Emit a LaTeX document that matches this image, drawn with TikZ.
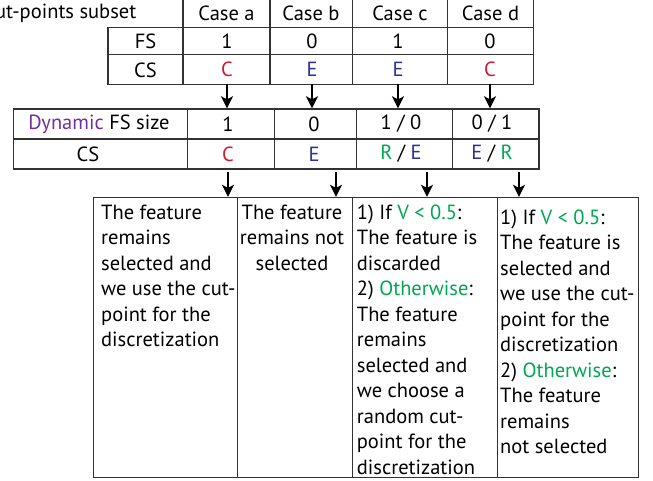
\documentclass[tikz,border=0pt]{standalone}
\usepackage{fontspec}
\setmainfont{PT Sans}
\usetikzlibrary{arrows.meta}

\definecolor{caseC}{RGB}{200,30,45}
\definecolor{caseE}{RGB}{46,49,146}
\definecolor{caseR}{RGB}{0,166,81}
\definecolor{dynpurple}{RGB}{112,48,160}

\newcommand{\cC}{\textcolor{caseC}{C}}
\newcommand{\cE}{\textcolor{caseE}{E}}
\newcommand{\cR}{\textcolor{caseR}{R}}
\newcommand{\grn}[1]{\textcolor{caseR}{#1}}

\begin{document}
\begin{tikzpicture}[x=1pt,y=-1pt]
	\tikzstyle{every node}=[font=\fontsize{20.5}{25.5}\selectfont, inner sep=0pt]
	\tikzstyle{grid}=[draw=black!80, line width=1.1pt]
	\tikzstyle{cell}=[minimum height=30pt]
	\tikzstyle{flow}=[line width=1.5pt, shorten >=0.5pt, -{Stealth[length=12pt,width=12pt,inset=3pt]}]
	\tikzstyle{box}=[draw=black!80, line width=1.1pt, minimum height=279.4pt, anchor=north west]
	\tikzstyle{txt}=[anchor=north west, align=left]
	
	\useasboundingbox (0,0) rectangle (653,481);
	\clip (0,0) rectangle (653,481);
	
	% cut-points subset table
	\draw[grid] (108,27.7) rectangle (533.3,84.3);
	\draw[grid] (108,54.3) -- (533.3,54.3);
	\foreach \x in {183,270,352.3,447.7,533.3}
		\draw[grid] (\x,-2) -- (\x,84.3);
	
	\node (cut) [anchor=east] at (136.5,13) {Cut-points subset};
	\node (case-a) at (226.5,13) {Case a};
	\node (case-b) at (311,13) {Case b};
	\node (case-c) at (400,13) {Case c};
	\node (case-d) at (490.5,13) {Case d};
	
	\node (fs) at (145.5,41) {FS};
	\node (cs) at (145.5,70) {CS};
	\node (fs-a) at (227,41) {1};
	\node (fs-b) at (312,41) {0};
	\node (fs-c) at (398,41) {1};
	\node (fs-d) at (490,41) {0};
	\node[cell] (cs-a) at (227,69.3) {\cC};
	\node[cell] (cs-b) at (312,69.3) {\cE};
	\node[cell] (cs-c) at (398,69.3) {\cE};
	\node[cell] (cs-d) at (490,69.3) {\cC};
	
	% dynamic table
	\draw[grid] (13.3,109) rectangle (539,169);
	\draw[grid] (13.3,139) -- (539,139);
	\foreach \x in {187.7,274.3,356.7,452.3}
		\draw[grid] (\x,109) -- (\x,169);
	
	\node (dyn) at (99,124) {\textcolor{dynpurple}{Dynamic} FS size};
	\node (dyn-cs) at (88,154) {CS};
	\node[cell] (dfs-a) at (228,124) {1};
	\node[cell] (dfs-b) at (314,124) {0};
	\node[cell] (dfs-c) at (401,124) {1 / 0};
	\node[cell] (dfs-d) at (492,124) {0 / 1};
	\node[cell] (dcs-a) at (228,154) {\cC};
	\node[cell] (dcs-b) at (314,154) {\cE};
	\node[cell] (dcs-c) at (401,154) {\cR\ / \cE};
	\node[cell] (dcs-d) at (492,154) {\cE\ / \cR};
	
	\foreach \c in {a,b,c,d}
		\draw[flow] (cs-\c.south) -- (cs-\c.south |- dfs-\c.north);
	
	% outcome boxes
	\node[box, minimum width=143.4pt] (box-a) at (93.3,197.3) {};
	\node[box, minimum width=115pt] (box-b) at (236.7,197.3) {};
	\node[box, minimum width=145.3pt] (box-c) at (352,197.3) {};
	\node[box, minimum width=140.4pt] (box-d) at (497.3,197.3) {};
	
	\draw[flow, shorten <=2.5pt] (dcs-a.south) -- (dcs-a.south |- box-a.north);
	\draw[flow, shorten <=2.5pt] ([xshift=22pt]dcs-b.south) -- ([xshift=22pt]dcs-b.south |- box-b.north);
	\draw[flow, shorten <=2.5pt] ([xshift=26pt]dcs-c.south) -- ([xshift=26pt]dcs-c.south |- box-c.north);
	\draw[flow, shorten <=2.5pt] ([xshift=27pt]dcs-d.south) -- ([xshift=27pt]dcs-d.south |- box-d.north);
	
	\node[txt] (res-a) at (101,204.4) {The feature\\remains\\selected and\\we use the cut-\\point for the\\discretization};
	\node[anchor=north, align=center] (res-b) at (292,204.4) {The feature\\remains not\\selected};
	\node[txt] (res-c) at (356.7,204.4) {1) If \grn{V < 0.5}:\\The feature is\\discarded\\2) \grn{Otherwise}:\\The feature\\remains\\selected and\\we choose a\\random cut-\\point for the\\discretization};
	\node[txt] (res-d) at (500,209.4) {1) If \grn{V < 0.5}:\\The feature is\\selected and\\we use the cut-\\point for the\\discretization\\2) \grn{Otherwise}:\\The feature\\remains\\not selected};
	
\end{tikzpicture}
\end{document}
